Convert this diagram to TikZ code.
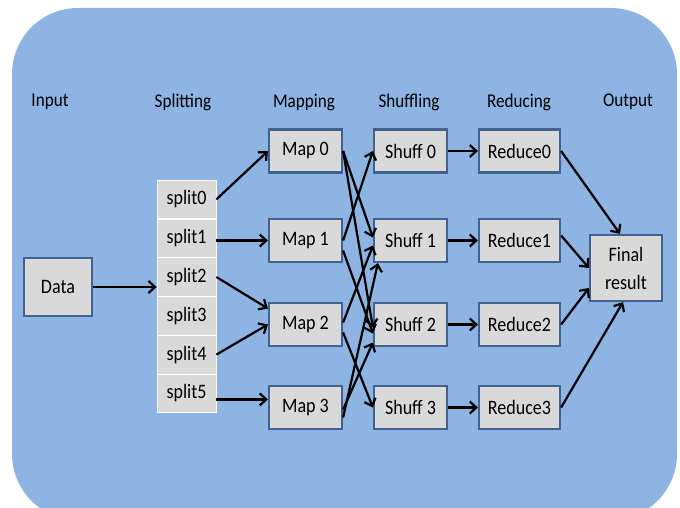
\documentclass[tikz,border=0pt]{standalone}
\usepackage{fontspec}
\setmainfont{Carlito}[FakeStretch=0.88]
\usetikzlibrary{arrows.meta,positioning}

\definecolor{panel}{HTML}{8EB4E3}
\definecolor{boxfill}{HTML}{D9D9D9}
\definecolor{boxline}{HTML}{41618F}

\begin{document}
\begin{tikzpicture}[
  x=1pt, y=-1pt,
  box/.style={draw=boxline, line width=2.2pt, fill=boxfill, inner sep=0pt,
              minimum width=73pt, minimum height=43pt,
              font=\fontsize{20.5}{24}\selectfont},
  cell/.style={draw=white, line width=0.8pt, fill=boxfill, inner sep=0pt,
               minimum width=59pt, minimum height=38.8pt,
               font=\fontsize{20.5}{24}\selectfont},
  head/.style={font=\fontsize{19.5}{23}\selectfont},
  arrow/.style={-{Straight Barb[length=6.5pt,width=12pt]}, line width=2.2pt, black}
]
\clip (0,0) rectangle (680,508);
\fill[panel, rounded corners=66pt] (12,8) rectangle (677,520);

\node[head] (input) at (50,102) {Input};
\node[head] (splitting) at (183,102) {Splitting};
\node[head] (mapping) at (304,102) {Mapping};
\node[head] (shuffling) at (409,102) {Shuffling};
\node[head] (reducing) at (519,102) {Reducing};
\node[head] (output) at (628,102) {Output};

\node[box, minimum width=68pt, minimum height=58pt] (data) at (58,287) {Data};

\foreach \k in {0,...,5}
  \node[cell] (split\k) at (186.5,{199.4+38.8*\k}) {split\k};
\draw[white, line width=2.5pt] (split0.south west) -- (split0.south east);

\foreach \k/\y in {0/151,1/240.5,2/324.5,3/407.5} {
  \node[box] (map\k) at (305.5,\y) {Map \k};
  \node[box] (shuff\k) at (410.5,\y) {Shuff \k};
  \node[box, minimum width=81pt] (reduce\k) at (519.5,\y) {Reduce\k};
  \draw[arrow] (shuff\k) -- (reduce\k);
}

\node[box, minimum width=72pt, minimum height=66pt, align=center,
      font=\fontsize{20.5}{28}\selectfont] (final) at (626,268) {Final\\result};

\draw[arrow] (data.east) -- (data.east -| split2.west);

\draw[arrow] (split0.east) -- (map0.west);
\draw[arrow] (map1.west -| split1.east) -- (map1.west);
\draw[arrow] (split2.east) -- ([yshift=16pt]map2.west);
\draw[arrow] (split4.east) -- (map2.west);
\draw[arrow] ([yshift=-6pt]split5.east) -- ([yshift=-6pt]split5.east -| map3.west);

\draw[arrow] (map0.east) -- ([yshift=3pt]shuff1.west);
\draw[arrow] (map0.east) -- ([yshift=-3pt]shuff2.west);
\draw[arrow] (map1.east) -- (shuff0.west);
\draw[arrow] ([yshift=-10pt]map1.east) -- ([yshift=-9pt]shuff2.west);
\draw[arrow] ([yshift=2pt]map2.east) -- ([yshift=-5pt]shuff1.west);
\draw[arrow] ([yshift=-8pt]map2.east) -- (shuff3.west);
\draw[arrow] ([yshift=-2pt]map3.east) -- ([yshift=-18pt]shuff2.west);
\draw[arrow] ([yshift=-10pt]map3.east) -- ([xshift=5pt]shuff1.south west);

\draw[arrow] (reduce0.east) -- ([xshift=-6pt]final.north);
\draw[arrow] ([yshift=5pt]reduce1.east) -- (final.west);
\draw[arrow] (reduce2.east) -- ([yshift=-20pt]final.west);
\draw[arrow] (reduce3.east) -- ([xshift=-3pt]final.south);
\end{tikzpicture}
\end{document}
